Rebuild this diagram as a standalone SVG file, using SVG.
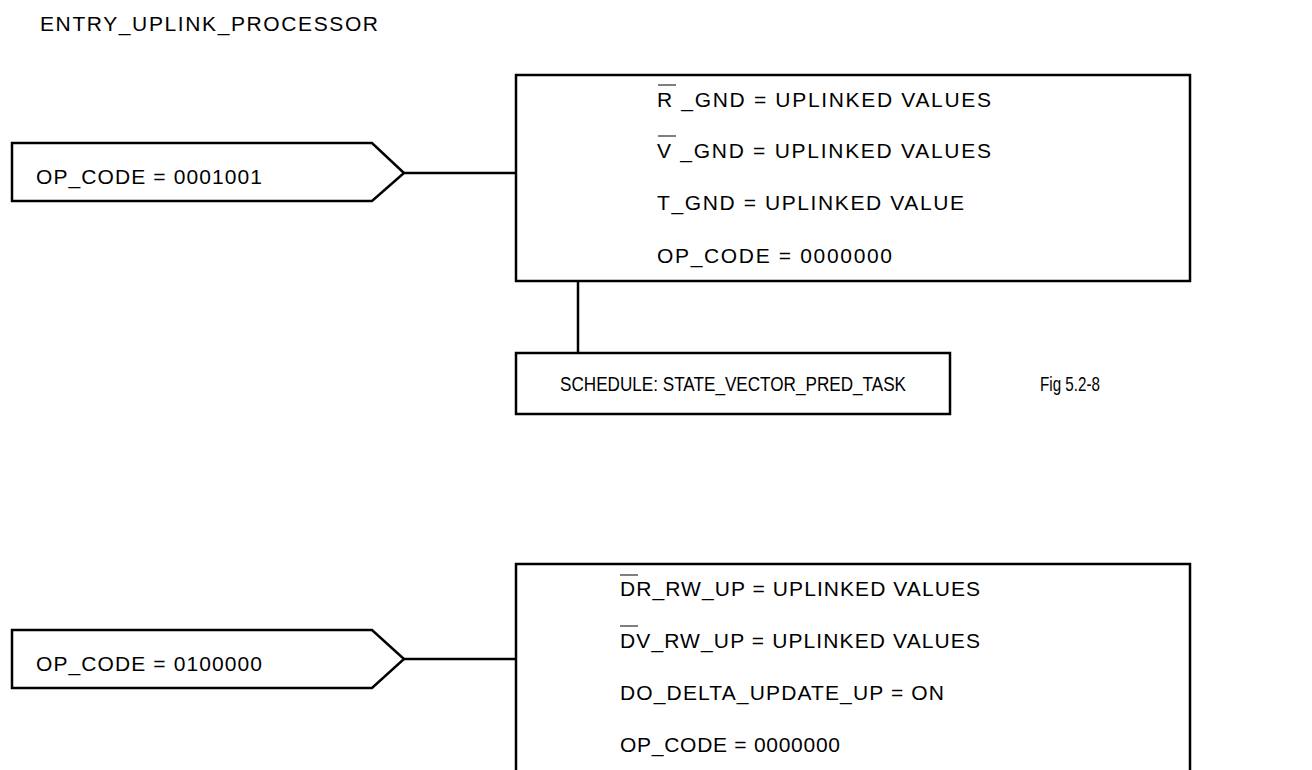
<svg xmlns="http://www.w3.org/2000/svg" width="1312" height="770" viewBox="0 0 1312 770">
<style>
.shape{fill:#fff;stroke:#000;stroke-width:2.5}
.wire{fill:none;stroke:#000;stroke-width:2.5}
.t{font-family:"Liberation Sans",Arial,sans-serif;font-size:21px;letter-spacing:2px;fill:#000}
.n{font-family:"Liberation Sans",Arial,sans-serif;font-size:21px;fill:#000}
.bar{stroke:#555;stroke-width:1.5}
</style>
<rect width="1312" height="770" fill="#fff"/>
<text id="title" class="t" x="40" y="31" textLength="340" lengthAdjust="spacing">ENTRY_UPLINK_PROCESSOR</text>

<g id="connectors">
<line class="wire" x1="404" y1="173" x2="516" y2="173"/>
<line class="wire" x1="578" y1="281" x2="578" y2="353"/>
<line class="wire" x1="404" y1="659" x2="516" y2="659"/>
</g>

<g id="op1">
<path class="shape" d="M12,143 H372 L404,173 L372,201 H12 Z"/>
<text class="t" x="36" y="184" textLength="228" lengthAdjust="spacing">OP_CODE = 0001001</text>
</g>

<g id="box1">
<rect class="shape" x="516" y="75" width="674" height="206"/>
<text class="t" x="657" y="107" textLength="336" lengthAdjust="spacing">R _GND = UPLINKED VALUES</text>
<line class="bar" x1="658" y1="85" x2="676" y2="85"/>
<text class="t" x="657" y="158" textLength="336" lengthAdjust="spacing">V _GND = UPLINKED VALUES</text>
<line class="bar" x1="658" y1="136" x2="676" y2="136"/>
<text class="t" x="657" y="210" textLength="309" lengthAdjust="spacing">T_GND = UPLINKED VALUE</text>
<text class="t" x="657" y="263" textLength="237" lengthAdjust="spacing">OP_CODE = 0000000</text>
</g>

<g id="schedule">
<rect class="shape" x="516" y="353" width="434" height="61"/>
<text class="n" x="560" y="391" textLength="346" lengthAdjust="spacingAndGlyphs">SCHEDULE: STATE_VECTOR_PRED_TASK</text>
</g>

<text id="fig" class="n" x="1040" y="391" textLength="60" lengthAdjust="spacingAndGlyphs">Fig 5.2-8</text>

<g id="op2">
<path class="shape" d="M12,630 H372 L404,659 L372,688 H12 Z"/>
<text class="t" x="36" y="671" textLength="228" lengthAdjust="spacing">OP_CODE = 0100000</text>
</g>

<g id="box2">
<path class="shape" d="M516,780 V564 H1190 V780"/>
<text class="t" x="620" y="596" textLength="362" lengthAdjust="spacing">DR_RW_UP = UPLINKED VALUES</text>
<line class="bar" x1="620" y1="575" x2="638" y2="575"/>
<text class="t" x="620" y="648" textLength="362" lengthAdjust="spacing">DV_RW_UP = UPLINKED VALUES</text>
<line class="bar" x1="620" y1="626" x2="638" y2="626"/>
<text class="t" x="620" y="700" textLength="326" lengthAdjust="spacing">DO_DELTA_UPDATE_UP = ON</text>
<text class="t" x="620" y="752" textLength="222" lengthAdjust="spacing">OP_CODE = 0000000</text>
</g>
</svg>
